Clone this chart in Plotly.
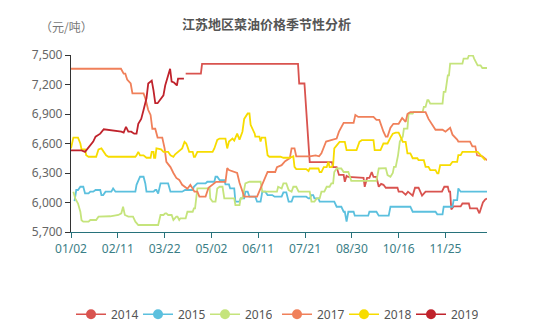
import plotly.graph_objects as go

# x-axis: category index (trading days), labels every 40 categories
tick_idx = [0, 40, 80, 120, 160, 200, 240, 280, 320]
tick_labels = ["01/02", "02/11", "03/22", "05/02", "06/11", "07/21", "08/30", "10/16", "11/25"]
n_days = 355.5

years = ["2014", "2015", "2016", "2017", "2018", "2019"]

x_2014 = [98, 111, 112, 194, 195, 199.5, 204, 223, 224, 227, 229, 233, 234, 235.5, 237, 250, 251, 253, 255,
          257, 258.5, 261, 263, 265, 267, 269, 279, 280, 283, 286, 288, 292, 294, 297, 300, 303, 317, 319,
          322, 323, 324, 325, 327, 333, 334.5, 340, 341, 347, 349, 352, 354, 355.5]
y_2014 = [7310, 7310, 7410, 7410, 7210, 7210, 6410, 6410, 6360, 6360, 6280, 6280, 6210, 6270, 6260, 6250,
          6160, 6250, 6250, 6310, 6260, 6260, 6160, 6190, 6180, 6150, 6150, 6110, 6110, 6080, 6110, 6070,
          6150, 6150, 6070, 6110, 6110, 6160, 6160, 6110, 6110, 5930, 5960, 5960, 5990, 5990, 5940, 5940,
          5890, 6000, 6030, 6040]

x_2015 = [3, 4.5, 6, 8, 10.5, 12, 15, 16.5, 19, 21, 25, 26, 27.5, 29.5, 34.5, 36, 38, 55, 56, 59, 62, 63.5,
          64.5, 70.5, 72, 73, 74.5, 76.5, 83, 85, 95, 97.5, 104, 105, 108, 115, 116.5, 122.5, 123.5, 125,
          127, 131, 132, 135, 136, 139.5, 140.5, 144, 145, 148, 149, 151, 152.5, 157.5, 159, 162, 163.5,
          166, 168, 172, 174, 180, 181.5, 184, 186, 188.5, 190, 201, 203, 204, 205.5, 207, 208, 211.5,
          212.5, 225, 227, 231, 233, 234, 235.5, 237, 241.5, 242.5, 254, 255, 261, 263, 271.5, 273, 290,
          292, 311.5, 313, 317.5, 318.5, 326, 327, 330, 331, 333, 355.5]
y_2015 = [6015, 6127, 6127, 6160, 6160, 6092, 6092, 6110, 6110, 6127, 6127, 6076, 6076, 6110, 6110, 6143,
          6110, 6110, 6180, 6262, 6262, 6194, 6110, 6110, 6127, 6127, 6090, 6194, 6194, 6110, 6110, 6127,
          6127, 6160, 6194, 6194, 6211, 6211, 6262, 6262, 6228, 6228, 6184, 6184, 6143, 6143, 6008, 6008,
          6042, 6042, 6110, 6110, 6059, 6059, 6008, 6008, 6110, 6110, 6076, 6076, 6059, 6059, 6103, 6103,
          6008, 6008, 6059, 6059, 6042, 6042, 6076, 6076, 6042, 6042, 6008, 6008, 5957, 5957, 5906, 5906,
          5805, 5906, 5906, 5866, 5866, 5906, 5906, 5866, 5866, 5957, 5957, 5906, 5906, 5880, 5880, 5957,
          5957, 6025, 6025, 6143, 6110, 6110]

x_2016 = [2, 3.7, 6, 8, 9, 10.5, 15, 16.5, 21.5, 23.5, 33.5, 40.5, 43, 44.5, 46, 49, 53, 55, 57.5, 74.5,
          76.5, 79, 80.5, 81.5, 83, 86, 87.5, 90, 91, 92.5, 93.5, 98, 99.5, 104, 105, 106, 108, 118.5, 119,
          121, 123.5, 125, 127, 129.5, 131, 139.5, 140.5, 144, 145, 146.5, 149, 152.5, 162, 163.5, 176,
          177, 180, 181.5, 184, 186, 188.5, 190, 192.5, 194.5, 204, 205.5, 208, 210, 212.5, 214, 216.5,
          218.5, 221, 222.5, 224, 225, 227, 231, 233, 237, 239.5, 261, 263, 267, 269, 270.5, 273, 275,
          276, 277.5, 279.5, 281, 283.5, 284.5, 287.5, 288.5, 292, 293, 300.5, 301.5, 303, 304.5, 305.5,
          307, 317.5, 318.5, 320, 322, 323, 324, 334.5, 335.5, 339, 340, 343.5, 344.5, 347.5, 350, 351.5,
          355.5]
y_2016 = [6110, 6040, 5990, 5906, 5820, 5805, 5805, 5822, 5822, 5856, 5860, 5873, 5890, 5957, 5873, 5856,
          5856, 5805, 5771, 5771, 5873, 5873, 5890, 5890, 5873, 5873, 5822, 5856, 5856, 5822, 5839, 5839,
          5906, 5906, 5940, 5940, 6143, 6143, 6042, 6008, 6008, 6143, 6160, 6160, 6042, 6042, 5974, 5974,
          6042, 6042, 6194, 6211, 6211, 6110, 6110, 6160, 6143, 6194, 6194, 6127, 6110, 6160, 6160, 6110,
          6110, 6008, 6008, 6042, 6042, 6110, 6110, 6160, 6160, 6194, 6194, 6310, 6346, 6346, 6310, 6310,
          6220, 6220, 6346, 6350, 6350, 6279, 6262, 6300, 6363, 6363, 6482, 6620, 6668, 6752, 6752, 6905,
          6905, 6922, 6922, 6972, 6972, 7040, 7040, 7006, 7006, 7125, 7125, 7293, 7293, 7412, 7412, 7463,
          7463, 7495, 7495, 7463, 7395, 7395, 7368, 7368]

x_2017 = [0, 42.7, 45, 46.4, 48, 51, 52.5, 62, 63.5, 66, 68, 69.5, 72, 74, 78, 80, 81.5, 85, 87.5, 90, 92.5,
          95, 99.5, 102, 105.5, 108, 109.7, 115, 117.5, 121.5, 124, 132, 133.5, 135, 142, 144, 148, 159,
          162, 166, 168, 174.5, 176, 180, 183, 187, 188.5, 191, 192.5, 204, 209, 212, 214, 218, 227, 229,
          233, 241.5, 243, 245.5, 258.5, 261, 263.5, 267, 269, 270.5, 273, 275.5, 280, 283, 286, 287.5, 290,
          301.5, 303, 305.5, 310, 311.5, 317.5, 320, 324, 326, 330, 331, 341, 343, 345.5, 347, 351.5, 354,
          355.5]
y_2017 = [7360, 7360, 7310, 7310, 7250, 7210, 7110, 7110, 7060, 6940, 6890, 6750, 6750, 6660, 6660, 6550,
          6414, 6360, 6300, 6250, 6230, 6180, 6140, 6180, 6110, 6110, 6060, 6060, 6150, 6190, 6210, 6210,
          6350, 6330, 6300, 6200, 6060, 6060, 6150, 6260, 6310, 6310, 6360, 6380, 6420, 6450, 6550, 6550,
          6470, 6470, 6480, 6470, 6500, 6620, 6650, 6720, 6810, 6810, 6890, 6870, 6870, 6840, 6840, 6720,
          6670, 6670, 6760, 6800, 6800, 6860, 6820, 6900, 6920, 6920, 6920, 6850, 6770, 6740, 6740, 6720,
          6760, 6690, 6640, 6620, 6620, 6570, 6570, 6480, 6470, 6440, 6430]

x_2018 = [0, 2, 6, 8, 9, 12, 13, 15, 21.5, 23.5, 26, 27.5, 30, 32, 55, 56, 57.5, 59, 62, 64.5, 68, 69, 70.5,
          71, 72, 73, 77, 79, 83, 85, 87.5, 89, 91.5, 95, 97, 98.5, 99.5, 101, 104, 105, 106, 108, 121,
          122.5, 125, 127, 132, 133.5, 135, 138, 139.5, 142, 144, 146.5, 148, 151, 152.5, 153.5, 157,
          157.5, 161, 162, 163, 166, 168, 169.5, 179, 181.5, 187, 190, 191, 192.5, 201, 203, 204, 211.5,
          212.5, 214, 216, 218.5, 220, 221, 222.5, 224, 225, 229, 229.5, 234, 235.5, 244, 246.5, 248.5,
          258.5, 259.5, 264.5, 267, 270.5, 273, 275, 277.5, 280, 282, 283.5, 286, 287.5, 290, 292, 296,
          297, 301.5, 303, 305.5, 307, 311.5, 313, 314, 315.5, 324, 326, 330, 331, 333, 334.5, 347.5, 350,
          352.5, 354]
y_2018 = [6550, 6660, 6660, 6600, 6540, 6540, 6480, 6465, 6465, 6540, 6550, 6520, 6480, 6465, 6465, 6480,
          6515, 6480, 6480, 6455, 6455, 6515, 6515, 6455, 6455, 6550, 6540, 6515, 6515, 6480, 6465, 6490,
          6515, 6550, 6617, 6600, 6570, 6515, 6515, 6465, 6465, 6515, 6515, 6550, 6637, 6650, 6650, 6550,
          6620, 6650, 6630, 6700, 6640, 6720, 6850, 6905, 6905, 6790, 6700, 6670, 6670, 6620, 6660, 6660,
          6480, 6465, 6465, 6455, 6455, 6470, 6363, 6340, 6340, 6320, 6346, 6346, 6310, 6310, 6360, 6360,
          6414, 6360, 6360, 6380, 6550, 6600, 6617, 6617, 6533, 6533, 6617, 6634, 6634, 6533, 6533, 6600,
          6600, 6660, 6700, 6710, 6710, 6660, 6617, 6617, 6500, 6500, 6450, 6450, 6430, 6430, 6363, 6363,
          6330, 6330, 6296, 6296, 6380, 6380, 6414, 6414, 6482, 6482, 6515, 6515, 6480, 6440, 6430]

x_2019 = [0, 9, 12, 15, 19, 21, 25, 28, 32, 43, 45, 47, 49, 51.5, 54, 56, 57.5, 60, 62, 64.5, 66, 69, 70.5,
          72, 74, 76, 79, 80.5, 83, 84.7, 86, 88, 90.5, 91.5, 96.5]
y_2019 = [6530, 6530, 6515, 6560, 6620, 6670, 6700, 6745, 6740, 6720, 6710, 6770, 6720, 6720, 6700, 6700,
          6800, 6850, 6940, 7060, 7210, 7240, 7140, 7010, 7010, 7040, 7090, 7190, 7280, 7360, 7230, 7220,
          7190, 7260, 7260]

colors = {"2014": "#d9534f", "2015": "#5bc0de", "2016": "#c5e47c", "2017": "#f0805a",
          "2018": "#f7dc00", "2019": "#c0232c"}
series = {"2014": (x_2014, y_2014), "2015": (x_2015, y_2015), "2016": (x_2016, y_2016),
          "2017": (x_2017, y_2017), "2018": (x_2018, y_2018), "2019": (x_2019, y_2019)}

fig = go.Figure()
for yr in years:
    xs, ys = series[yr]
    fig.add_trace(go.Scatter(x=xs, y=ys, mode="lines", name=yr, showlegend=False,
                             line=dict(color=colors[yr], width=1.8), hoverinfo="skip"))
for i, yr in enumerate(years):
    fig.add_trace(go.Scatter(x=[None], y=[None], mode="lines+markers", name=yr,
                             legend="legend" if i < 3 else "legend2",
                             line=dict(color=colors[yr], width=1.5),
                             marker=dict(color=colors[yr], size=10, symbol="circle")))

leg_common = dict(orientation="h", xanchor="left", y=-0.465, yanchor="middle",
                  font=dict(size=12, color="#555"), itemwidth=30, tracegroupgap=0,
                  entrywidth=22, entrywidthmode="pixels", bgcolor="rgba(0,0,0,0)")

fig.update_layout(
    width=547, height=332,
    margin=dict(l=71, r=60, t=55, b=100, autoexpand=False),
    paper_bgcolor="white", plot_bgcolor="white",
    font=dict(family="Noto Sans, Noto Sans CJK SC, sans-serif", size=12, color="#666"),
    showlegend=True,
    legend=dict(x=0.0, **leg_common),
    legend2=dict(x=206 / 416, **leg_common),
    xaxis=dict(range=[0, n_days], tickmode="array", tickvals=tick_idx, ticktext=tick_labels,
               showgrid=False, zeroline=False, showline=True, linecolor="#27727B", linewidth=1.2,
               ticks="outside", ticklen=5, tickcolor="#27727B",
               tickfont=dict(size=12, color="#3a7e86")),
    yaxis=dict(range=[5700, 7500], tickmode="linear", tick0=5700, dtick=300, tickformat=",",
               showgrid=False, zeroline=False, showline=True, linecolor="#333", linewidth=1.2,
               ticks="outside", ticklen=5, tickcolor="#333",
               tickfont=dict(size=12, color="#666")),
    annotations=[
        dict(text="<b>江苏地区菜油价格季节性分析</b>", xref="paper", yref="paper",
             x=(266 - 71) / 416, y=1 + (55 - 24) / 177, xanchor="center", yanchor="middle",
             showarrow=False, font=dict(family="Noto Sans CJK SC", size=13, color="#555")),
        dict(text="（元/吨）", xref="paper", yref="paper",
             x=(66 - 71) / 416, y=1 + (55 - 26) / 177, xanchor="center", yanchor="middle",
             showarrow=False, font=dict(family="Noto Sans CJK SC", size=12, color="#777")),
    ],
)

fig.write_html("out.html")
